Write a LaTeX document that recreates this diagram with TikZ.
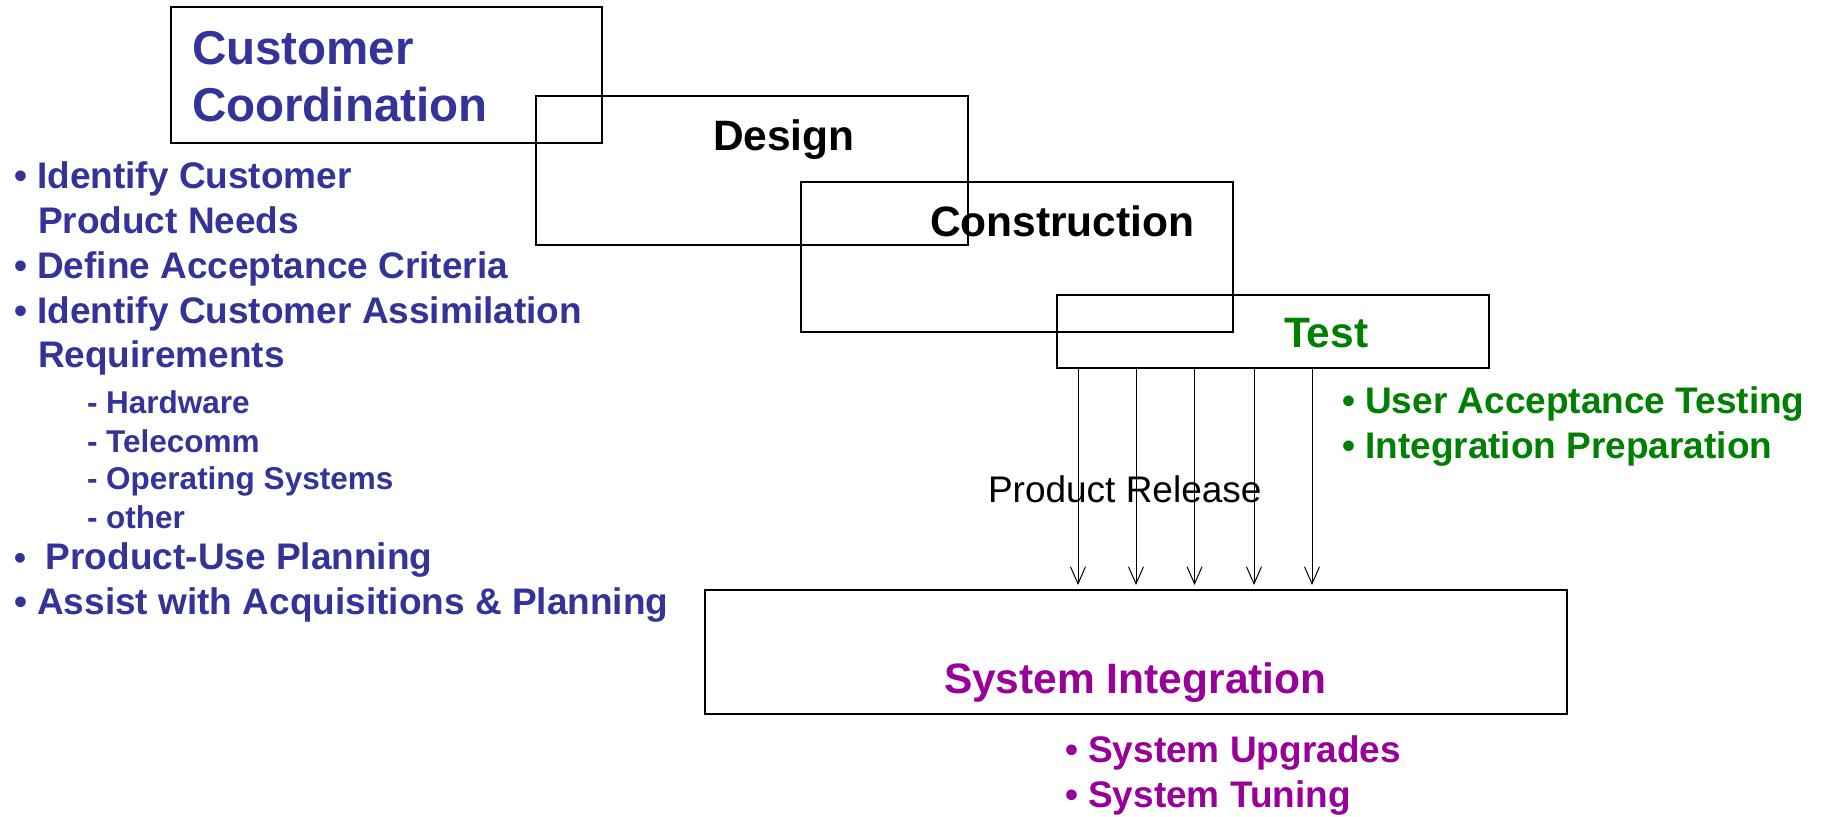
\documentclass[tikz,border=0pt]{standalone}
\usepackage{fontspec}
\setmainfont{Liberation Sans}
\usetikzlibrary{arrows.meta}
\definecolor{ccblue}{HTML}{333399}
\definecolor{testgreen}{HTML}{008000}
\definecolor{sipurple}{HTML}{990099}
\tikzset{
  phase/.style={draw=black, line width=2pt, rectangle, inner sep=0pt, outer sep=0pt, anchor=north west},
  txt/.style={anchor=base west, inner sep=0pt, outer sep=0pt},
  title/.style={txt, font={\fontsize{47.5}{55}\selectfont\bfseries}},
  phasename/.style={txt, font={\fontsize{42.5}{50}\selectfont\bfseries}},
  item/.style={txt, font={\fontsize{37}{44}\selectfont\bfseries}},
  subitem/.style={txt, font={\fontsize{31.5}{38}\selectfont\bfseries}},
  release/.style={draw=black, line width=1pt, -{Straight Barb[length=17pt,width=15pt,line width=1pt]}, shorten >=5pt},
}
\begin{document}
\begin{tikzpicture}[x=1pt, y=-1pt]
  \useasboundingbox (0,0) rectangle (1827,816);

  % phase boxes
  \node[phase, minimum width=431pt, minimum height=136pt] (cc) at (171,7) {};
  \node[phase, minimum width=432pt, minimum height=149pt] (design) at (536,95.5) {};
  \node[phase, minimum width=432pt, minimum height=150pt] (constr) at (800.5,182) {};
  \node[phase, minimum width=432pt, minimum height=73pt] (test) at (1057,295) {};
  \node[phase, minimum width=862pt, minimum height=124pt] (si) at (705,590) {};

  % box titles
  \node[title, text=ccblue] (cct1) at (192,64) {Customer};
  \node[title, text=ccblue] (cct2) at (192,121.5) {Coordination};
  \node[phasename] (designt) at (713,150) {Design};
  \node[phasename] (constrt) at (930,236.5) {Construction};
  \node[phasename, text=testgreen] (testt) at (1284,347) {Test};
  \node[phasename, text=sipurple] (sit) at (944,693) {System Integration};

  % product release arrows
  \foreach \x [count=\i] in {1078,1136,1194.5,1254,1312}
    \coordinate (r\i) at (\x,0);
  \node[txt, font={\fontsize{37}{44}\selectfont}] (rel) at (988,502) {Product Release};
  \foreach \i in {1,...,5}
    \draw[release] (test.south -| r\i) -- (si.north -| r\i);

  % customer coordination activities
  \begin{scope}[every node/.append style={text=ccblue}]
    \node[item] (l1) at (14,188.5) {• Identify Customer};
    \node[item] (l2) at (38,233) {Product Needs};
    \node[item] (l3) at (14,278) {• Define Acceptance Criteria};
    \node[item] (l4) at (14,323) {• Identify Customer Assimilation};
    \node[item] (l5) at (38,367) {Requirements};
    \node[subitem] (s1) at (87,413) {- Hardware};
    \node[subitem] (s2) at (87,452) {- Telecomm};
    \node[subitem] (s3) at (87,489) {- Operating Systems};
    \node[subitem] (s4) at (87,528) {- other};
    \node[item] (l6) at (14,569) {{\fontsize{34}{40}\selectfont •}\hspace{20pt}Product-Use Planning};
    \node[item] (l7) at (14,614) {• Assist with Acquisitions \& Planning};
  \end{scope}

  % test activities
  \node[item, text=testgreen] (t1) at (1342,413) {• User Acceptance Testing};
  \node[item, text=testgreen] (t2) at (1342,458) {• Integration Preparation};

  % integration activities
  \node[item, text=sipurple] (p1) at (1065,762) {• System Upgrades};
  \node[item, text=sipurple] (p2) at (1065,807) {• System Tuning};
\end{tikzpicture}
\end{document}
